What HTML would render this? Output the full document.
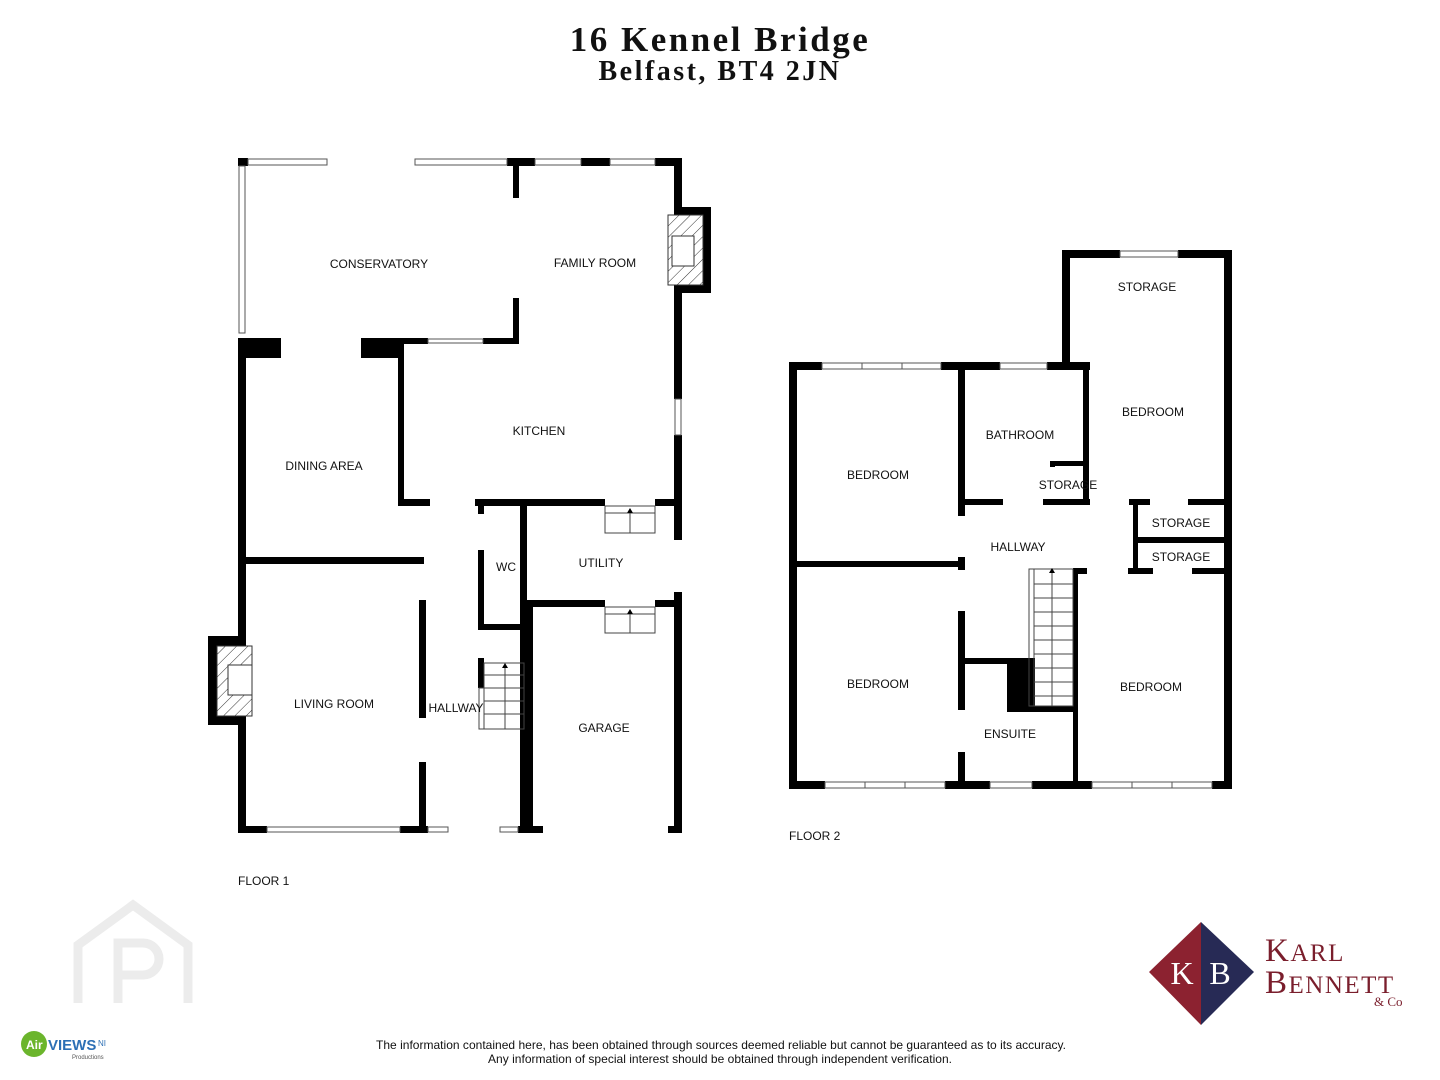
<!DOCTYPE html>
<html><head><meta charset="utf-8"><style>
html,body{margin:0;padding:0;background:#fff}
svg{display:block}
text{font-family:"Liberation Sans",Arial,sans-serif;fill:#111}
</style></head><body>
<svg width="1440" height="1080" viewBox="0 0 1440 1080" xmlns="http://www.w3.org/2000/svg">
<defs>
<pattern id="h" width="8" height="8" patternUnits="userSpaceOnUse" patternTransform="rotate(45)">
<rect width="8" height="8" fill="#fff"/><line x1="0" y1="0" x2="0" y2="8" stroke="#333" stroke-width="1"/></pattern>
</defs>
<text x="720" y="51" text-anchor="middle" style="font-family:'Liberation Serif',serif;font-weight:bold;font-size:35px;letter-spacing:2.5px">16 Kennel Bridge</text>
<text x="720" y="80" text-anchor="middle" style="font-family:'Liberation Serif',serif;font-weight:bold;font-size:28px;letter-spacing:2.5px">Belfast, BT4 2JN</text>

<g fill="#000">
<!-- FLOOR 1 -->
<rect x="238" y="158" width="10" height="8"/>
<rect x="507" y="158" width="28" height="8"/>
<rect x="581" y="158" width="29" height="8"/>
<rect x="655" y="158" width="27" height="8"/>
<rect x="674" y="158" width="8" height="49"/>
<rect x="674" y="207" width="37" height="86"/>
<rect x="674" y="293" width="8" height="106"/>
<rect x="674" y="435" width="8" height="105"/>
<rect x="674" y="592" width="8" height="241"/>
<rect x="513" y="166" width="6" height="32"/>
<rect x="513" y="298" width="6" height="46"/>
<rect x="238" y="338" width="43" height="20"/>
<rect x="361" y="338" width="40" height="20"/>
<rect x="398" y="338" width="30" height="6"/>
<rect x="483" y="338" width="36" height="6"/>
<rect x="398" y="338" width="6" height="168"/>
<rect x="238" y="338" width="8" height="298"/>
<rect x="208" y="636" width="38" height="89"/>
<rect x="238" y="725" width="8" height="108"/>
<rect x="238" y="826" width="29" height="7"/>
<rect x="400" y="826" width="28" height="7"/>
<rect x="518" y="826" width="25" height="7"/>
<rect x="668" y="826" width="14" height="7"/>
<rect x="398" y="499" width="32" height="7"/>
<rect x="475" y="499" width="130" height="7"/>
<rect x="655" y="499" width="27" height="7"/>
<rect x="246" y="557" width="178" height="7"/>
<rect x="419" y="600" width="7" height="118"/>
<rect x="419" y="762" width="7" height="71"/>
<rect x="478" y="506" width="6" height="8"/>
<rect x="478" y="550" width="6" height="80"/>
<rect x="478" y="624" width="49" height="6"/>
<rect x="478" y="658" width="6" height="30"/>
<rect x="520" y="499" width="7" height="334"/>
<rect x="527" y="600" width="78" height="7"/>
<rect x="655" y="600" width="27" height="7"/>
<rect x="527" y="600" width="6" height="233"/>
<!-- FLOOR 2 -->
<rect x="789" y="362" width="33" height="8"/>
<rect x="941" y="362" width="59" height="8"/>
<rect x="1047" y="362" width="43" height="8"/>
<rect x="1062" y="250" width="58" height="8"/>
<rect x="1178" y="250" width="54" height="8"/>
<rect x="1062" y="250" width="8" height="120"/>
<rect x="1224" y="250" width="8" height="539"/>
<rect x="789" y="362" width="8" height="427"/>
<rect x="789" y="781" width="36" height="8"/>
<rect x="945" y="781" width="45" height="8"/>
<rect x="1032" y="781" width="60" height="8"/>
<rect x="1212" y="781" width="20" height="8"/>
<rect x="797" y="561" width="165" height="6"/>
<rect x="958" y="362" width="7" height="154"/>
<rect x="958" y="557" width="7" height="13"/>
<rect x="958" y="611" width="7" height="99"/>
<rect x="958" y="752" width="7" height="36"/>
<rect x="1083" y="365" width="6" height="140"/>
<rect x="965" y="499" width="38" height="6"/>
<rect x="1043" y="499" width="47" height="6"/>
<rect x="1050" y="461" width="35" height="5"/>
<rect x="1050" y="461" width="5" height="6"/>
<rect x="1129" y="499" width="21" height="6"/>
<rect x="1188" y="499" width="44" height="6"/>
<rect x="1133" y="499" width="5" height="74"/>
<rect x="1133" y="537" width="99" height="6"/>
<rect x="1128" y="568" width="25" height="6"/>
<rect x="1192" y="568" width="40" height="6"/>
<rect x="1073" y="568" width="14" height="6"/>
<rect x="1073" y="568" width="5" height="220"/>
<rect x="962" y="658" width="73" height="6"/>
<rect x="1007" y="658" width="28" height="54"/>
<rect x="1007" y="706" width="71" height="6"/>
</g>

<!-- windows -->
<g fill="#fff" stroke="#555" stroke-width="1">
<rect x="248" y="159" width="79" height="6"/><rect x="415" y="159" width="92" height="6"/>
<rect x="239" y="166" width="6" height="167"/>
<rect x="535" y="159" width="46" height="6"/><rect x="610" y="159" width="45" height="6"/>
<rect x="428" y="339" width="55" height="4"/>
<rect x="675" y="399" width="6" height="36"/>
<rect x="267" y="827" width="133" height="5"/>
<rect x="428" y="827" width="20" height="5"/><rect x="500" y="827" width="18" height="5"/>
<rect x="822" y="363" width="119" height="6"/><rect x="1000" y="363" width="47" height="6"/>
<rect x="1120" y="251" width="58" height="6"/>
<rect x="825" y="782" width="120" height="6"/><rect x="990" y="782" width="42" height="6"/>
<rect x="1092" y="782" width="120" height="6"/>
</g>
<g stroke="#555" stroke-width="1">
<line x1="862" y1="363" x2="862" y2="369"/><line x1="902" y1="363" x2="902" y2="369"/>
<line x1="865" y1="782" x2="865" y2="788"/><line x1="905" y1="782" x2="905" y2="788"/>
<line x1="1132" y1="782" x2="1132" y2="788"/><line x1="1172" y1="782" x2="1172" y2="788"/>
</g>
<!-- fireplaces -->
<rect x="668" y="215" width="35" height="70" fill="url(#h)" stroke="#333"/>
<rect x="672" y="236" width="22" height="30" fill="#fff" stroke="#333"/>
<rect x="217" y="646" width="35" height="70" fill="url(#h)" stroke="#333"/>
<rect x="228" y="665" width="24" height="30" fill="#fff" stroke="#333"/>
<!-- steps -->
<g fill="none" stroke="#444" stroke-width="1">
<rect x="605" y="506" width="50" height="27"/><line x1="605" y1="513" x2="655" y2="513"/><line x1="630" y1="510" x2="630" y2="533"/>
<rect x="605" y="607" width="50" height="26"/><line x1="605" y1="614" x2="655" y2="614"/><line x1="630" y1="611" x2="630" y2="633"/>
<rect x="484" y="663" width="40" height="66"/><line x1="505" y1="668" x2="505" y2="729"/>
<line x1="484" y1="675" x2="524" y2="675"/><line x1="484" y1="688" x2="524" y2="688"/><line x1="484" y1="701" x2="524" y2="701"/><line x1="484" y1="714" x2="524" y2="714"/>
<rect x="479" y="688" width="5" height="41"/>
<rect x="1029" y="569" width="44" height="137"/><line x1="1034" y1="569" x2="1034" y2="706"/><line x1="1052" y1="573" x2="1052" y2="706"/>
<line x1="1034" y1="584" x2="1073" y2="584"/><line x1="1034" y1="598" x2="1073" y2="598"/><line x1="1034" y1="612" x2="1073" y2="612"/><line x1="1034" y1="626" x2="1073" y2="626"/><line x1="1034" y1="640" x2="1073" y2="640"/><line x1="1034" y1="654" x2="1073" y2="654"/><line x1="1034" y1="668" x2="1073" y2="668"/><line x1="1034" y1="682" x2="1073" y2="682"/><line x1="1034" y1="696" x2="1073" y2="696"/>
</g>
<g fill="#000"><path d="M627 513l3-5 3 5z"/><path d="M627 614l3-5 3 5z"/><path d="M502 668l3-5 3 5z"/><path d="M1049 573l3-5 3 5z"/></g>

<g font-size="12">
<text x="379" y="268" text-anchor="middle">CONSERVATORY</text>
<text x="595" y="267" text-anchor="middle">FAMILY ROOM</text>
<text x="539" y="435" text-anchor="middle">KITCHEN</text>
<text x="324" y="470" text-anchor="middle">DINING AREA</text>
<text x="506" y="571" text-anchor="middle">WC</text>
<text x="601" y="567" text-anchor="middle">UTILITY</text>
<text x="334" y="708" text-anchor="middle">LIVING ROOM</text>
<text x="456" y="712" text-anchor="middle">HALLWAY</text>
<text x="604" y="732" text-anchor="middle">GARAGE</text>
<text x="238" y="885">FLOOR 1</text>
<text x="1147" y="291" text-anchor="middle">STORAGE</text>
<text x="1153" y="416" text-anchor="middle">BEDROOM</text>
<text x="878" y="479" text-anchor="middle">BEDROOM</text>
<text x="1020" y="439" text-anchor="middle">BATHROOM</text>
<text x="1068" y="489" text-anchor="middle">STORAGE</text>
<text x="1181" y="527" text-anchor="middle">STORAGE</text>
<text x="1181" y="561" text-anchor="middle">STORAGE</text>
<text x="1018" y="551" text-anchor="middle">HALLWAY</text>
<text x="878" y="688" text-anchor="middle">BEDROOM</text>
<text x="1151" y="691" text-anchor="middle">BEDROOM</text>
<text x="1010" y="738" text-anchor="middle">ENSUITE</text>
<text x="789" y="840">FLOOR 2</text>
</g>

<!-- watermark -->
<g fill="none" stroke="#ececec" stroke-width="9">
<path d="M78 1003V945l55-40 55 40v58"/><path d="M118 1003v-60h25a16 16 0 0 1 0 32h-25"/>
</g>
<!-- airviews -->
<circle cx="34" cy="1044" r="13" fill="#6bb52c"/>
<text x="26" y="1049" font-size="12" font-weight="bold" style="fill:#fff">Air</text>
<text x="48" y="1050" font-size="15" font-weight="bold" style="fill:#2c6fb5">VIEWS</text>
<text x="98" y="1046" font-size="8" style="fill:#2c6fb5">NI</text>
<text x="72" y="1059" font-size="6" style="fill:#555">Productions</text>

<!-- KB logo -->
<path d="M1201 922L1149 972L1201 1025Z" fill="#8c2230"/>
<path d="M1201 922L1254 972L1201 1025Z" fill="#272a55"/>
<text x="1182" y="984" font-size="32" text-anchor="middle" style="font-family:'Liberation Serif',serif;fill:#fff">K</text>
<text x="1220" y="984" font-size="32" text-anchor="middle" style="font-family:'Liberation Serif',serif;fill:#fff">B</text>
<text x="1265" y="961" style="font-family:'Liberation Serif',serif;font-size:33px;fill:#7a1e2c;letter-spacing:1.5px">K<tspan font-size="25">ARL</tspan></text>
<text x="1265" y="993" style="font-family:'Liberation Serif',serif;font-size:33px;fill:#7a1e2c;letter-spacing:1.5px">B<tspan font-size="25">ENNETT</tspan></text>
<text x="1374" y="1006" style="font-family:'Liberation Serif',serif;font-size:13px;fill:#7a1e2c">&amp; Co</text>

<text x="721" y="1049" font-size="12" text-anchor="middle" textLength="690">The information contained here, has been obtained through sources deemed reliable but cannot be guaranteed as to its accuracy.</text>
<text x="720" y="1063" font-size="12" text-anchor="middle" textLength="464">Any information of special interest should be obtained through independent verification.</text>
</svg>
</body></html>
